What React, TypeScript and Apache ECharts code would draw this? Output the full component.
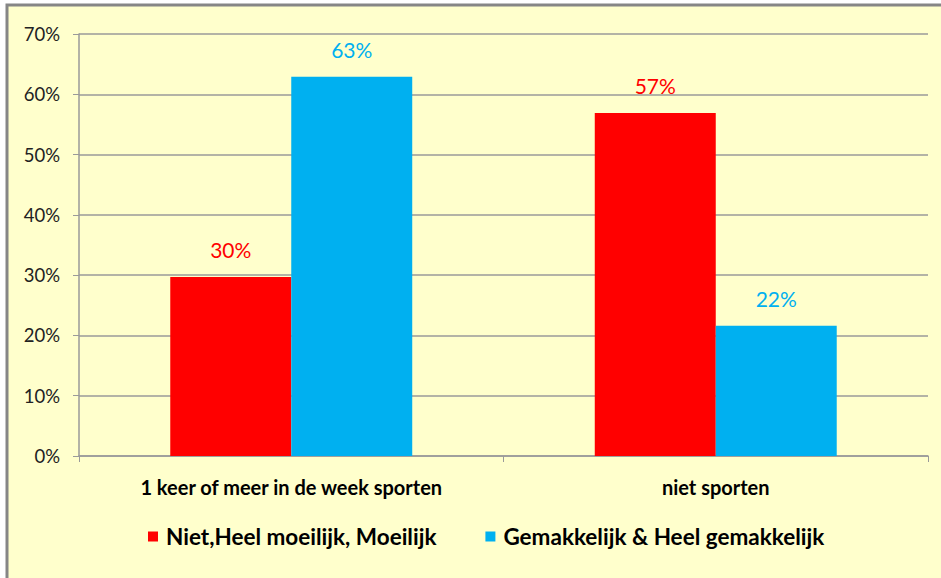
import React, { useEffect, useRef } from "react";
import * as echarts from "echarts";

const categories = ["1 keer of meer in de week sporten", "niet sporten"];
const seriesNames = ["Niet,Heel moeilijk, Moeilijk", "Gemakkelijk & Heel gemakkelijk"];
const moeilijk = [29.7, 56.9];
const gemakkelijk = [62.9, 21.6];
const yTicks = [0, 10, 20, 30, 40, 50, 60, 70];

const FONT = "Lato";

export default function App() {
  const ref = useRef<HTMLDivElement>(null);
  useEffect(() => {
    if (!ref.current) return;
    const chart = echarts.init(ref.current, null, { renderer: "svg" });
    const labelFmt = (p: any) => Math.round(p.value) + "%";
    chart.setOption({
      animation: false,
      backgroundColor: "#ffffff",
      textStyle: { fontFamily: FONT },
      graphic: [
        {
          type: "rect",
          z: -10,
          silent: true,
          shape: { x: 7, y: 5, width: 1000, height: 1000 },
          style: { fill: "#FFFFCC", stroke: "#868686", lineWidth: 3 },
        },
      ],
      grid: { left: 79, top: 34, right: 13, bottom: 122 },
      legend: {
        top: 525,
        left: 148,
        padding: 0,
        itemWidth: 10,
        itemHeight: 10,
        itemGap: 49,
        icon: "rect",
        textStyle: { fontFamily: FONT, fontWeight: "bold", fontSize: 22.5, color: "#000", padding: [0, 0, 0, 3] },
        data: seriesNames,
      },
      xAxis: {
        type: "category",
        data: categories,
        axisLine: { lineStyle: { color: "#9a9a9a", width: 1.5 } },
        axisTick: { show: true, length: 6, lineStyle: { color: "#9a9a9a" } },
        axisLabel: { fontFamily: FONT, fontWeight: "bold", fontSize: 20, color: "#000", margin: 21 },
      },
      yAxis: {
        type: "value",
        min: 0,
        max: 70,
        interval: 10,
        axisLine: { show: true, lineStyle: { color: "#9a9a9a", width: 1.5 } },
        axisTick: { show: true, length: 6, lineStyle: { color: "#9a9a9a" } },
        splitLine: { lineStyle: { color: "#9a9a9a", width: 1.5 } },
        axisLabel: {
          fontFamily: FONT,
          fontSize: 18.5,
          color: "#222",
          margin: 19,
          formatter: (v: number) => (yTicks.includes(v) ? v + "%" : ""),
        },
      },
      series: [
        {
          name: seriesNames[0],
          type: "bar",
          data: moeilijk,
          barGap: "0%",
          barCategoryGap: "43%",
          itemStyle: { color: "#FF0000" },
          label: { show: true, position: "top", distance: 17, formatter: labelFmt, color: "#FF0000", fontFamily: FONT, fontSize: 21 },
        },
        {
          name: seriesNames[1],
          type: "bar",
          data: gemakkelijk,
          barGap: "0%",
          barCategoryGap: "43%",
          itemStyle: { color: "#00B0F0" },
          label: { show: true, position: "top", distance: 17, formatter: labelFmt, color: "#00B0F0", fontFamily: FONT, fontSize: 21 },
        },
      ],
    });
    return () => chart.dispose();
  }, []);
  return <div ref={ref} style={{ position: "absolute", left: 0, top: 0, width: 941, height: 578 }} />;
}
